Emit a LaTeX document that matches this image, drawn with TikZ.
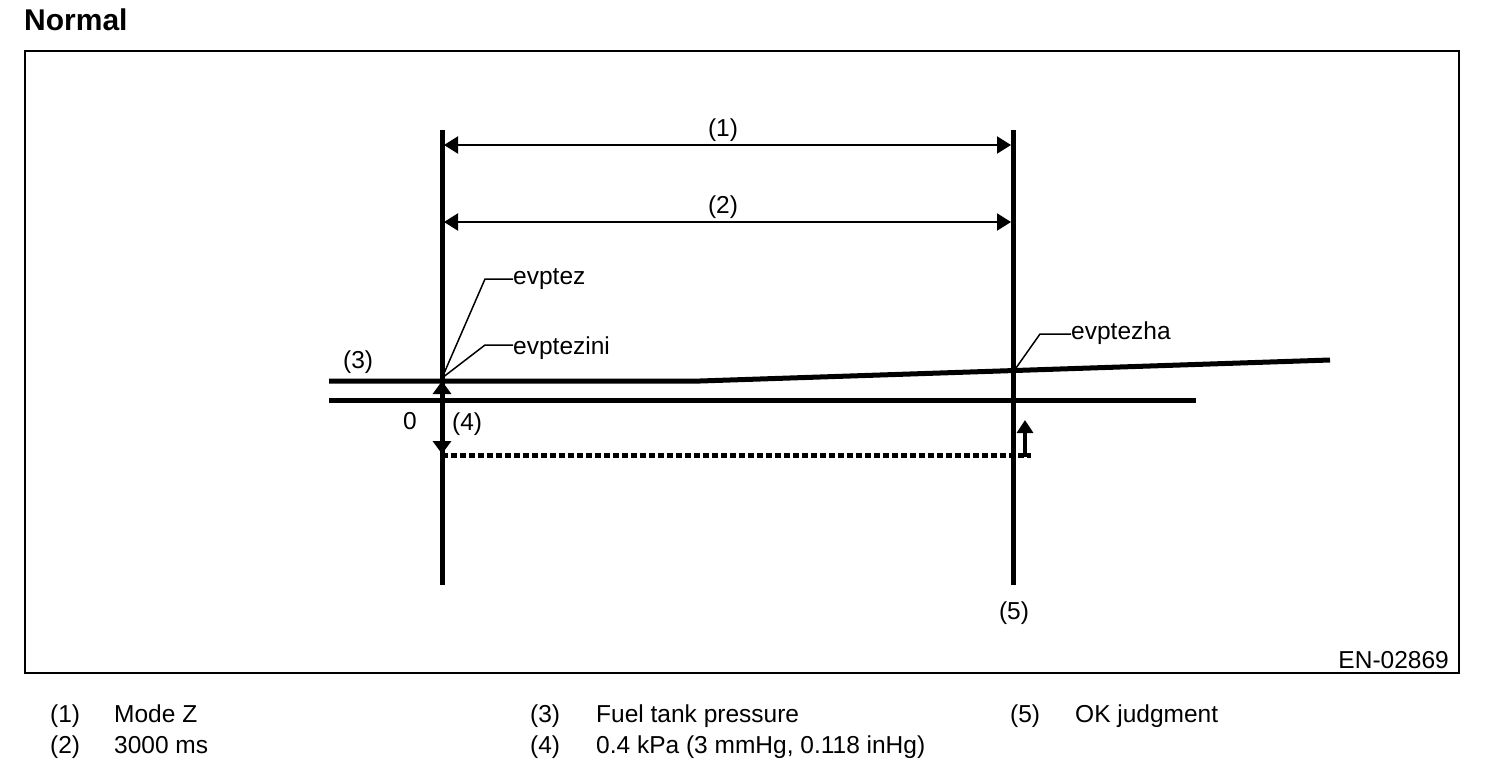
\documentclass[tikz,border=0pt]{standalone}
\usepackage{fontspec}
\setmainfont{Liberation Sans}
\usetikzlibrary{positioning}
\usetikzlibrary{arrows.meta}

\tikzset{
  gruesa/.style={line width=5pt},
  cota/.style={line width=2pt, {Triangle[length=14pt,width=17pt]}-{Triangle[length=14pt,width=17pt]}},
  guia/.style={line width=1.5pt},
  etiq/.style={inner sep=0pt, anchor=base west},
}

\begin{document}
\begin{tikzpicture}[x=1pt,y=-1pt, font=\fontsize{24.5}{28}\selectfont]

  \useasboundingbox (0,0) rectangle (1504,774);

  \node[etiq, font=\fontsize{30}{34}\selectfont\bfseries] (titulo) at (24,30) {Normal}; % Titulo
  \draw[line width=1.5pt] (25,51) rectangle (1459,673); % Marco

  % Lineas verticales
  \coordinate (izqA) at (442,130);
  \coordinate (izqB) at (442,585);
  \coordinate (derA) at (1013,130);
  \coordinate (derB) at (1013,585);
  \draw[gruesa] (izqA) -- (izqB);
  \draw[gruesa] (derA) -- (derB);

  % Cotas (1) y (2)
  \coordinate (c1a) at (444,145);
  \coordinate (c1b) at (1011,145);
  \coordinate (c2a) at (444,222);
  \coordinate (c2b) at (1011,222);
  \draw[cota] (c1a) -- (c1b);
  \draw[cota] (c2a) -- (c2b);
  \node[inner sep=0pt, anchor=base] (n1) at (723,136) {(1)};
  \node[inner sep=0pt, anchor=base] (n2) at (723,213) {(2)};

  % Presion del tanque y linea cero
  \coordinate (p0) at (329,381);
  \coordinate (p1) at (700,381);
  \coordinate (p2) at (1330,360);
  \draw[gruesa] (p0) -- (p1) -- (p2);
  \coordinate (z0) at (329,400);
  \coordinate (z1) at (1196,400);
  \draw[gruesa] (z0) -- (z1);
  \node[etiq] (n3) at (343,368) {(3)};
  \node[etiq] (cero) at (403,429) {0};
  \node[etiq] (n4) at (452,430) {(4)};

  % Flechas de la banda (4)
  \coordinate (o) at (442,400);
  \coordinate (sube) at (442,381);
  \coordinate (baja) at (442,454);
  \draw[line width=4pt, -{Triangle[length=13pt,width=18pt]}] (o) -- (sube);
  \draw[line width=4pt, -{Triangle[length=13pt,width=18pt]}] (o) -- (baja);
  \coordinate (d0) at (442,455);
  \coordinate (d1) at (1031,455);
  \draw[line width=5pt, dash pattern=on 6pt off 3pt] (d0) -- (d1); % Umbral
  \coordinate (f0) at (1025,457);
  \coordinate (f1) at (1025,420);
  \draw[line width=4pt, -{Triangle[length=13pt,width=16pt]}] (f0) -- (f1);

  % Lineas guia
  \coordinate (ini) at (442,378);
  \node[etiq] (ez) at (513,284) {evptez};
  \node[etiq] (ezi) at (513,354) {evptezini};
  \node[etiq] (ezh) at (1071,339) {evptezha};
  \draw[guia] (ini) -- (485,279) -- (ez.west |- 0,279);
  \draw[guia] (ini) -- (485,345) -- (ezi.west |- 0,345);
  \draw[guia] (1016,368) -- (1040,334) -- (ezh.west |- 0,334);

  \node[inner sep=0pt, anchor=base] (n5) at (1014,619) {(5)};
  \node[inner sep=0pt, anchor=base east] (codigo) at (1449,668) {EN-02869};

  % Leyenda
  \node[etiq] (l1) at (50,722) {(1)};
  \node[etiq] (t1) at (114,722) {Mode Z};
  \node[etiq] (l2) at (50,753) {(2)};
  \node[etiq] (t2) at (114,753) {3000 ms};
  \node[etiq] (l3) at (530,722) {(3)};
  \node[etiq] (t3) at (596,722) {Fuel tank pressure};
  \node[etiq] (l4) at (530,753) {(4)};
  \node[etiq] (t4) at (596,753) {0.4 kPa (3 mmHg, 0.118 inHg)};
  \node[etiq] (l5) at (1010,722) {(5)};
  \node[etiq] (t5) at (1075,722) {OK judgment};

\end{tikzpicture}
\end{document}
